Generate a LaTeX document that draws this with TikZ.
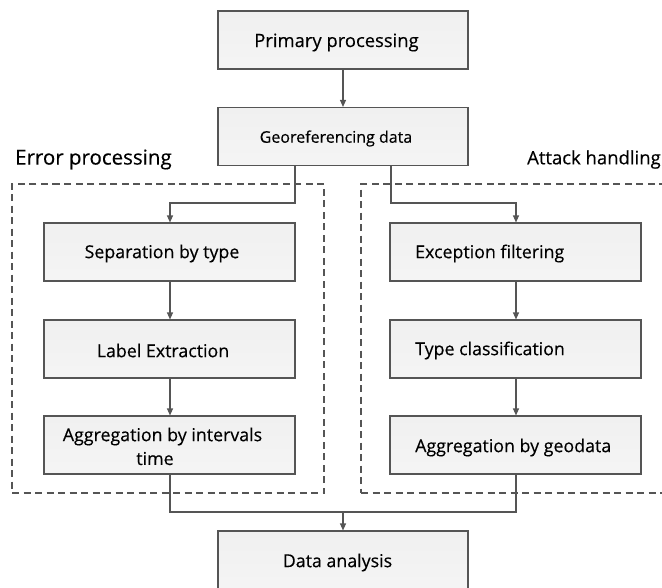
\documentclass[tikz,border=0pt]{standalone}
\usepackage{fontspec}
\setmainfont{Open Sans}[FakeBold=0.3]
\usetikzlibrary{arrows.meta}
\definecolor{edge}{HTML}{555555}
\definecolor{boxfill}{HTML}{F0F0F0}
\tikzset{
  box/.style={draw=edge, line width=1.1pt, top color=boxfill, bottom color=boxfill!70!white, minimum width=250pt, minimum height=58pt, inner sep=0pt},
  txt/.style={font=\fontsize{17.8}{21}\selectfont, inner sep=0pt, text=black, yshift=-2.5pt},
  conn/.style={draw=edge, line width=1.1pt, -{Triangle[length=7pt,width=6pt]}},
  link/.style={draw=edge, line width=1.1pt},
  grp/.style={draw=edge, line width=1.2pt, dash pattern=on 7pt off 4.5pt},
  grplabel/.style={inner sep=0pt, text=black, yshift=-2.5pt}
}
\begin{document}
\begin{tikzpicture}[x=1pt,y=-1pt]
\useasboundingbox (0,0) rectangle (662,587);
\clip (0,0) rectangle (662,587);
% groups
\node[grp, minimum width=312pt, minimum height=309pt, inner sep=0pt] (gl) at (168,338.5) {};
\node[grp, minimum width=320pt, minimum height=309pt, inner sep=0pt] (gr) at (521,338.5) {};
\node[grplabel, anchor=west, font=\fontsize{20.5}{24}\selectfont] (gll) at (15,157) {Error processing};
\node[grplabel, anchor=west, font=\fontsize{18.5}{22}\selectfont] (grl) at (527,157) {Attack handling};
% boxes
\node[box] (pp) at (343,40) {};
\node[box] (geo) at (343,136.5) {};
\node[box, minimum width=251pt] (sep) at (169.5,252) {};
\node[box, minimum width=251pt] (lab) at (169.5,349) {};
\node[box, minimum width=251pt] (agi) at (169.5,445) {};
\node[box, minimum width=251pt] (exc) at (515.5,252) {};
\node[box, minimum width=251pt] (typ) at (515.5,349) {};
\node[box, minimum width=251pt] (agg) at (515.5,445) {};
\node[box] (da) at (343,560) {};
% texts
\node[txt, font=\fontsize{18.4}{21}\selectfont] (tpp) at (336.5,40) {Primary processing};
\node[txt, font=\fontsize{16}{19}\selectfont] (tgeo) at (336,136) {Georeferencing data};
\node[txt] (tsep) at (162,251) {Separation by type};
\node[txt] (tlab) at (163,348) {Label Extraction};
\node[txt] (tagi1) at (162.5,434) {Aggregation by intervals};
\node[txt] (tagi2) at (155,456) {time};
\node[txt, anchor=west] (texc) at (415,251) {Exception filtering};
\node[txt, anchor=west] (ttyp) at (415,348) {Type classification};
\node[txt, anchor=west] (tagg) at (415,445) {Aggregation by geodata};
\node[txt] (tda) at (337.5,560) {Data analysis};
% connectors
\coordinate (gl0) at (295,165);
\coordinate (gr0) at (391,165);
\coordinate (jn) at (343,512);
\draw[conn] (pp) -- (geo);
\draw[conn] (gl0) |- (170,203) -- (sep.north -| 170,0);
\draw[conn] (gr0) |- (516,203) -- (exc.north -| 516,0);
\draw[conn] (sep.south -| 170,0) -- (lab.north -| 170,0);
\draw[conn] (lab.south -| 170,0) -- (agi.north -| 170,0);
\draw[conn] (exc.south -| 516,0) -- (typ.north -| 516,0);
\draw[conn] (typ.south -| 516,0) -- (agg.north -| 516,0);
\draw[link] (agi.south -| 170,0) |- (jn);
\draw[link] (agg.south -| 516,0) |- (jn);
\draw[conn] (jn) -- (da);
\end{tikzpicture}
\end{document}
